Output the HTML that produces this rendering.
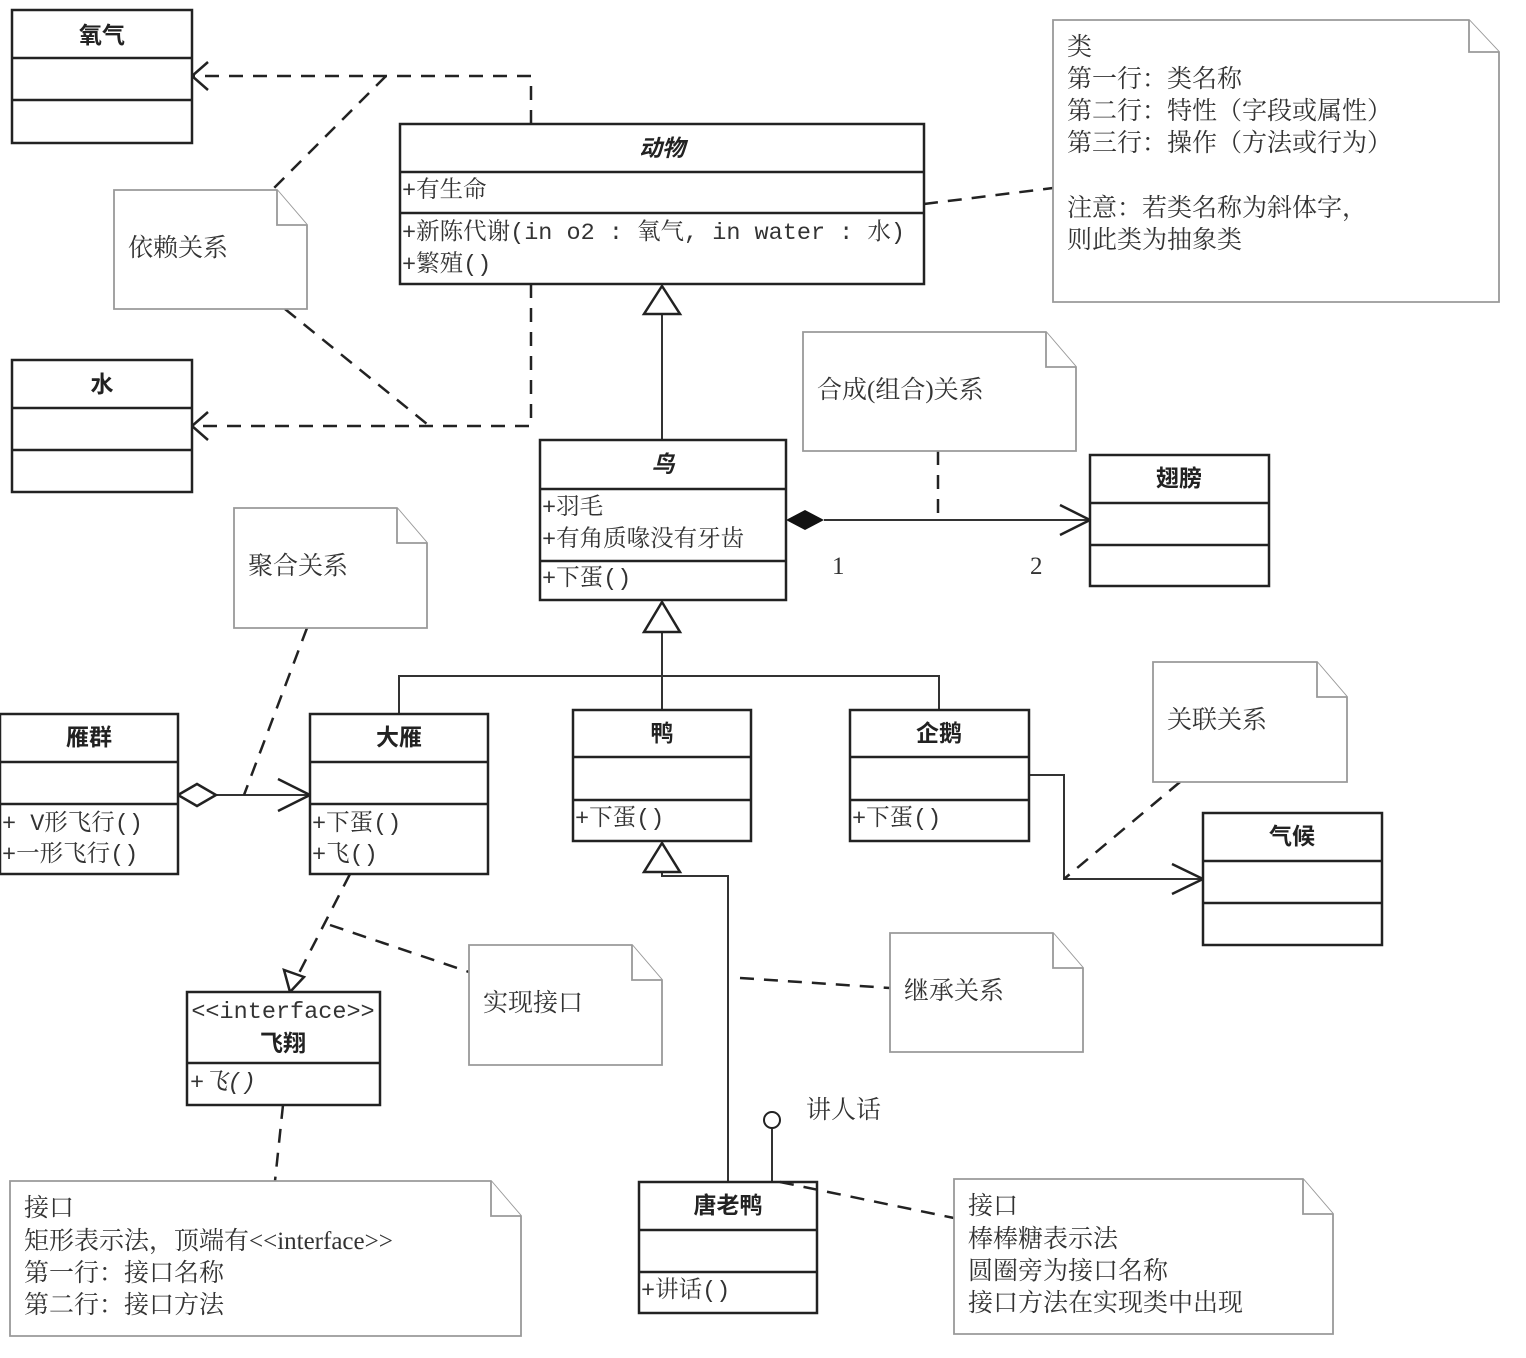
<!DOCTYPE html>
<html><head><meta charset="utf-8">
<style>
html,body{margin:0;padding:0;background:#fff;}
svg{display:block;}
.t{font-family:"Liberation Sans","Noto Sans CJK SC",sans-serif;font-weight:bold;font-size:23px;fill:#222;text-anchor:middle;}
.m{font-family:"Liberation Mono","Noto Serif CJK SC",serif;font-size:23.5px;fill:#333;}
.n{font-family:"Liberation Serif","Noto Serif CJK SC",serif;font-size:25px;fill:#333;}
.box{fill:#fff;stroke:#222;stroke-width:2.5;}
.ln{stroke:#222;stroke-width:2.5;fill:none;}
.thin{stroke:#333;stroke-width:2;fill:none;}
.d{stroke:#222;stroke-width:2.5;fill:none;stroke-dasharray:14,10;}
.note{fill:#fff;stroke:#999;stroke-width:1.8;}
</style></head><body>
<svg width="1526" height="1358" viewBox="0 0 1526 1358" xmlns="http://www.w3.org/2000/svg">
<!-- connectors -->
<polyline class="d" points="531,124 531,76 192,76"/>
<polyline class="ln" points="208,62 192,76 208,90"/>
<polyline class="d" points="531,284 531,426 192,426"/>
<polyline class="ln" points="208,412 192,426 208,440"/>
<line class="d" x1="386" y1="76" x2="272" y2="190"/>
<line class="d" x1="285" y1="309" x2="427" y2="424"/>
<line class="d" x1="924" y1="204" x2="1053" y2="188"/>
<line class="thin" x1="662" y1="314" x2="662" y2="440"/>
<polygon class="box" points="662,286 644,314 680,314" style="stroke-width:2.5"/>
<line class="thin" x1="824" y1="520" x2="1090" y2="520"/>
<polygon points="786,520 805,510 824,520 805,530" fill="#111"/>
<polyline class="ln" points="1060,505 1090,520 1060,535"/>
<line class="d" x1="938" y1="451" x2="938" y2="520"/>
<text class="n" x="832" y="574">1</text>
<text class="n" x="1030" y="574">2</text>
<polyline class="thin" points="399,714 399,676 939,676 939,710"/>
<line class="thin" x1="662" y1="632" x2="662" y2="710"/>
<polygon class="box" points="662,602 644,632 680,632"/>
<line class="thin" x1="216" y1="795" x2="310" y2="795"/>
<polygon class="box" points="178,795 197,784 216,795 197,806"/>
<polyline class="ln" points="278,779 310,795 278,811"/>
<line class="d" x1="307" y1="628" x2="244" y2="795"/>
<polyline class="thin" points="1029,775 1064,775 1064,879 1203,879"/>
<polyline class="ln" points="1172,864 1203,879 1172,894"/>
<line class="d" x1="1180" y1="782" x2="1064" y2="879"/>
<line class="d" x1="350" y1="874" x2="298" y2="975"/>
<polygon class="box" points="290,992 284,970 304,977"/>
<line class="d" x1="330" y1="925" x2="469" y2="972"/>
<polyline class="thin" points="662,872 662,876 728,876 728,1182"/>
<polygon class="box" points="662,843 644,872 680,872"/>
<line class="d" x1="740" y1="978" x2="890" y2="988"/>
<line class="thin" x1="772" y1="1128" x2="772" y2="1182"/>
<circle cx="772" cy="1120" r="8" fill="#fff" stroke="#222" stroke-width="2"/>
<text class="n" x="806" y="1118">讲人话</text>

<!-- classes -->
<rect class="box" x="12" y="10" width="180" height="133"/>
<line class="ln" x1="12" y1="58" x2="192" y2="58"/><line class="ln" x1="12" y1="100" x2="192" y2="100"/>
<text class="t" x="102" y="43">氧气</text>

<rect class="box" x="12" y="360" width="180" height="132"/>
<line class="ln" x1="12" y1="408" x2="192" y2="408"/><line class="ln" x1="12" y1="450" x2="192" y2="450"/>
<text class="t" x="102" y="392">水</text>

<rect class="box" x="400" y="124" width="524" height="160"/>
<line class="ln" x1="400" y1="172" x2="924" y2="172"/><line class="ln" x1="400" y1="213" x2="924" y2="213"/>
<text class="t" x="662" y="156" font-style="italic">动物</text>
<text class="m" x="402" y="197">+有生命</text>
<text class="m" x="402" y="239">+新陈代谢(in o2 : 氧气, in water : 水)</text>
<text class="m" x="402" y="271">+繁殖()</text>

<rect class="box" x="540" y="440" width="246" height="160"/>
<line class="ln" x1="540" y1="489" x2="786" y2="489"/><line class="ln" x1="540" y1="561" x2="786" y2="561"/>
<text class="t" x="663" y="472" font-style="italic">鸟</text>
<text class="m" x="542" y="514">+羽毛</text>
<text class="m" x="542" y="546">+有角质喙没有牙齿</text>
<text class="m" x="542" y="585">+下蛋()</text>

<rect class="box" x="1090" y="455" width="179" height="131"/>
<line class="ln" x1="1090" y1="503" x2="1269" y2="503"/><line class="ln" x1="1090" y1="545" x2="1269" y2="545"/>
<text class="t" x="1179" y="486">翅膀</text>

<rect class="box" x="0" y="714" width="178" height="160"/>
<line class="ln" x1="0" y1="762" x2="178" y2="762"/><line class="ln" x1="0" y1="804" x2="178" y2="804"/>
<text class="t" x="89" y="745">雁群</text>
<text class="m" x="2" y="830">+ V形飞行()</text>
<text class="m" x="2" y="861">+一形飞行()</text>

<rect class="box" x="310" y="714" width="178" height="160"/>
<line class="ln" x1="310" y1="762" x2="488" y2="762"/><line class="ln" x1="310" y1="804" x2="488" y2="804"/>
<text class="t" x="399" y="745">大雁</text>
<text class="m" x="312" y="830">+下蛋()</text>
<text class="m" x="312" y="861">+飞()</text>

<rect class="box" x="573" y="710" width="178" height="131"/>
<line class="ln" x1="573" y1="757" x2="751" y2="757"/><line class="ln" x1="573" y1="800" x2="751" y2="800"/>
<text class="t" x="662" y="741">鸭</text>
<text class="m" x="575" y="825">+下蛋()</text>

<rect class="box" x="850" y="710" width="179" height="131"/>
<line class="ln" x1="850" y1="757" x2="1029" y2="757"/><line class="ln" x1="850" y1="800" x2="1029" y2="800"/>
<text class="t" x="939" y="741">企鹅</text>
<text class="m" x="852" y="825">+下蛋()</text>

<rect class="box" x="1203" y="813" width="179" height="132"/>
<line class="ln" x1="1203" y1="861" x2="1382" y2="861"/><line class="ln" x1="1203" y1="903" x2="1382" y2="903"/>
<text class="t" x="1292" y="844">气候</text>

<rect class="box" x="187" y="992" width="193" height="113"/>
<line class="ln" x1="187" y1="1063" x2="380" y2="1063"/>
<text class="m" x="283" y="1018" text-anchor="middle">&lt;&lt;interface&gt;&gt;</text>
<text class="t" x="283" y="1051">飞翔</text>
<text class="m" x="190" y="1089" font-style="italic">+飞()</text>

<rect class="box" x="639" y="1182" width="178" height="131"/>
<line class="ln" x1="639" y1="1230" x2="817" y2="1230"/><line class="ln" x1="639" y1="1272" x2="817" y2="1272"/>
<text class="t" x="728" y="1213">唐老鸭</text>
<text class="m" x="641" y="1297">+讲话()</text>
<line class="d" x1="780" y1="1182" x2="954" y2="1218"/>
<line class="d" x1="283" y1="1105" x2="275" y2="1181"/>

<!-- notes -->
<g>
<path class="note" d="M1053,20 H1469 L1499,52 V302 H1053 Z"/><path class="note" d="M1469,20 V52 H1499"/>
<text class="n" x="1067" y="55">类</text>
<text class="n" x="1067" y="87">第一行：类名称</text>
<text class="n" x="1067" y="119">第二行：特性（字段或属性）</text>
<text class="n" x="1067" y="151">第三行：操作（方法或行为）</text>
<text class="n" x="1067" y="216">注意：若类名称为斜体字，</text>
<text class="n" x="1067" y="248">则此类为抽象类</text>

<path class="note" d="M114,190 H277 L307,225 V309 H114 Z"/><path class="note" d="M277,190 V225 H307"/>
<text class="n" x="128" y="256">依赖关系</text>

<path class="note" d="M803,332 H1046 L1076,367 V451 H803 Z"/><path class="note" d="M1046,332 V367 H1076"/>
<text class="n" x="817" y="398">合成(组合)关系</text>

<path class="note" d="M234,508 H397 L427,543 V628 H234 Z"/><path class="note" d="M397,508 V543 H427"/>
<text class="n" x="248" y="574">聚合关系</text>

<path class="note" d="M1153,662 H1317 L1347,697 V782 H1153 Z"/><path class="note" d="M1317,662 V697 H1347"/>
<text class="n" x="1167" y="728">关联关系</text>

<path class="note" d="M469,945 H632 L662,980 V1065 H469 Z"/><path class="note" d="M632,945 V980 H662"/>
<text class="n" x="483" y="1011">实现接口</text>

<path class="note" d="M890,933 H1053 L1083,968 V1052 H890 Z"/><path class="note" d="M1053,933 V968 H1083"/>
<text class="n" x="904" y="999">继承关系</text>

<path class="note" d="M10,1181 H491 L521,1216 V1336 H10 Z"/><path class="note" d="M491,1181 V1216 H521"/>
<text class="n" x="24" y="1216">接口</text>
<text class="n" x="24" y="1249">矩形表示法，顶端有&lt;&lt;interface&gt;&gt;</text>
<text class="n" x="24" y="1281">第一行：接口名称</text>
<text class="n" x="24" y="1313">第二行：接口方法</text>

<path class="note" d="M954,1179 H1303 L1333,1214 V1334 H954 Z"/><path class="note" d="M1303,1179 V1214 H1333"/>
<text class="n" x="968" y="1214">接口</text>
<text class="n" x="968" y="1247">棒棒糖表示法</text>
<text class="n" x="968" y="1279">圆圈旁为接口名称</text>
<text class="n" x="968" y="1311">接口方法在实现类中出现</text>
</g>
</svg>
</body></html>
